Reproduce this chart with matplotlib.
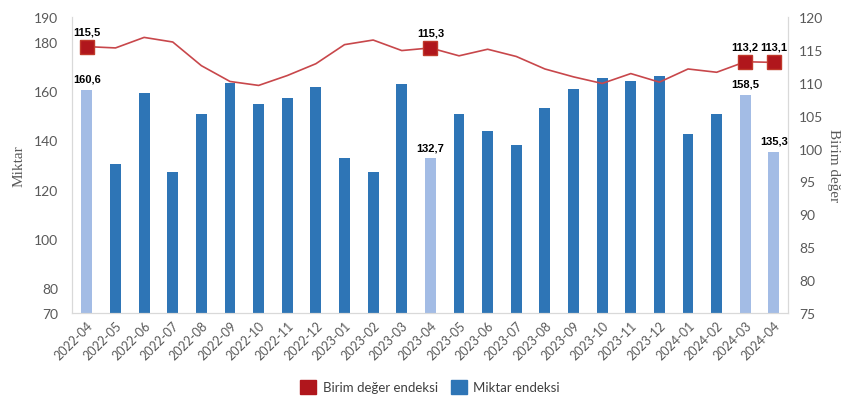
import numpy as np
import matplotlib
matplotlib.use("Agg")
import matplotlib.pyplot as plt
from matplotlib.patches import Patch

# veriler
months = ['2022-04', '2022-05', '2022-06', '2022-07', '2022-08', '2022-09', '2022-10',
          '2022-11', '2022-12', '2023-01', '2023-02', '2023-03', '2023-04', '2023-05',
          '2023-06', '2023-07', '2023-08', '2023-09', '2023-10', '2023-11', '2023-12',
          '2024-01', '2024-02', '2024-03', '2024-04']
miktar = [160.6, 130.6, 159.0, 127.3, 150.5, 163.3, 154.8, 157.0, 161.6, 132.9, 127.1,
          163.0, 132.7, 150.8, 143.9, 138.2, 153.2, 160.9, 165.1, 163.9, 166.2, 142.4,
          150.5, 158.5, 135.3]
birim = [115.5, 115.3, 116.9, 116.2, 112.6, 110.2, 109.6, 111.1, 112.9, 115.8, 116.5,
         114.9, 115.3, 114.1, 115.1, 114.0, 112.1, 110.9, 109.9, 111.4, 110.1, 112.1,
         111.6, 113.2, 113.1]
highlight = [0, 12, 23, 24]  # etiketli aylar

dark_blue = '#2E75B6'
light_blue = '#A3BCE5'
line_red = '#C8474B'
marker_red = '#B0161C'
grey = '#595959'

plt.rcParams['font.family'] = ['Lato', 'DejaVu Sans']

fig = plt.figure(figsize=(8.5, 4.14), dpi=100)
ax = fig.add_axes([0.0847, 0.2415, 0.8423, 0.715])
ax2 = ax.twinx()

x = np.arange(len(months))
colors = [light_blue if i in highlight else dark_blue for i in x]
ax.bar(x, miktar, width=0.38, color=colors, zorder=2)
for i in highlight:
    ax.text(i, miktar[i] + 2.5, f'{miktar[i]:.1f}'.replace('.', ','), ha='center', va='bottom',
            fontsize=8, fontweight='bold', family='Liberation Sans')

ax2.plot(x, birim, color=line_red, lw=1.2, zorder=3)
ax2.plot(x[highlight], np.array(birim)[highlight], ls='none', marker='s', ms=10,
         color=marker_red, mec='#C0392B', zorder=4)
for i in highlight:
    ax2.text(i, birim[i] + 1.6, f'{birim[i]:.1f}'.replace('.', ','), ha='center', va='bottom',
             fontsize=8, fontweight='bold', family='Liberation Sans')

ax.set_xlim(-0.52, 24.49)
ax.set_ylim(70, 190)
ax.set_yticks([70, 80, 100, 120, 140, 160, 180, 190])
ax2.set_ylim(75, 120)
ax2.set_yticks(np.arange(75, 121, 5))

ax.set_xticks(x)
ax.set_xticklabels(months, rotation=45, ha='right', rotation_mode='anchor', fontsize=9, color=grey)
ax.tick_params(axis='x', length=0, pad=4)
ax.tick_params(axis='y', length=0, labelsize=10, labelcolor=grey, pad=10)
ax2.tick_params(axis='y', length=0, labelsize=10, labelcolor=grey, pad=8)

for a in (ax, ax2):
    a.spines['top'].set_visible(False)
    for s in ('left', 'right', 'bottom'):
        a.spines[s].set_color('#D9D9D9')

ax.set_ylabel('Miktar', family='Liberation Serif', fontsize=11, color=grey, labelpad=6)
ax2.set_ylabel('Birim değer', family='Liberation Serif', fontsize=11, color=grey,
               rotation=270, labelpad=12)

handles = [Patch(color=marker_red, label='Birim değer endeksi'),
           Patch(color=dark_blue, label='Miktar endeksi')]
fig.legend(handles=handles, loc='center', bbox_to_anchor=(0.506, 0.063), ncol=2, frameon=False,
           fontsize=9.5, handlelength=1.2, handleheight=1.2, columnspacing=1.0, handletextpad=0.5,
           labelcolor='#404040')

fig.savefig('out.png', dpi=100)
